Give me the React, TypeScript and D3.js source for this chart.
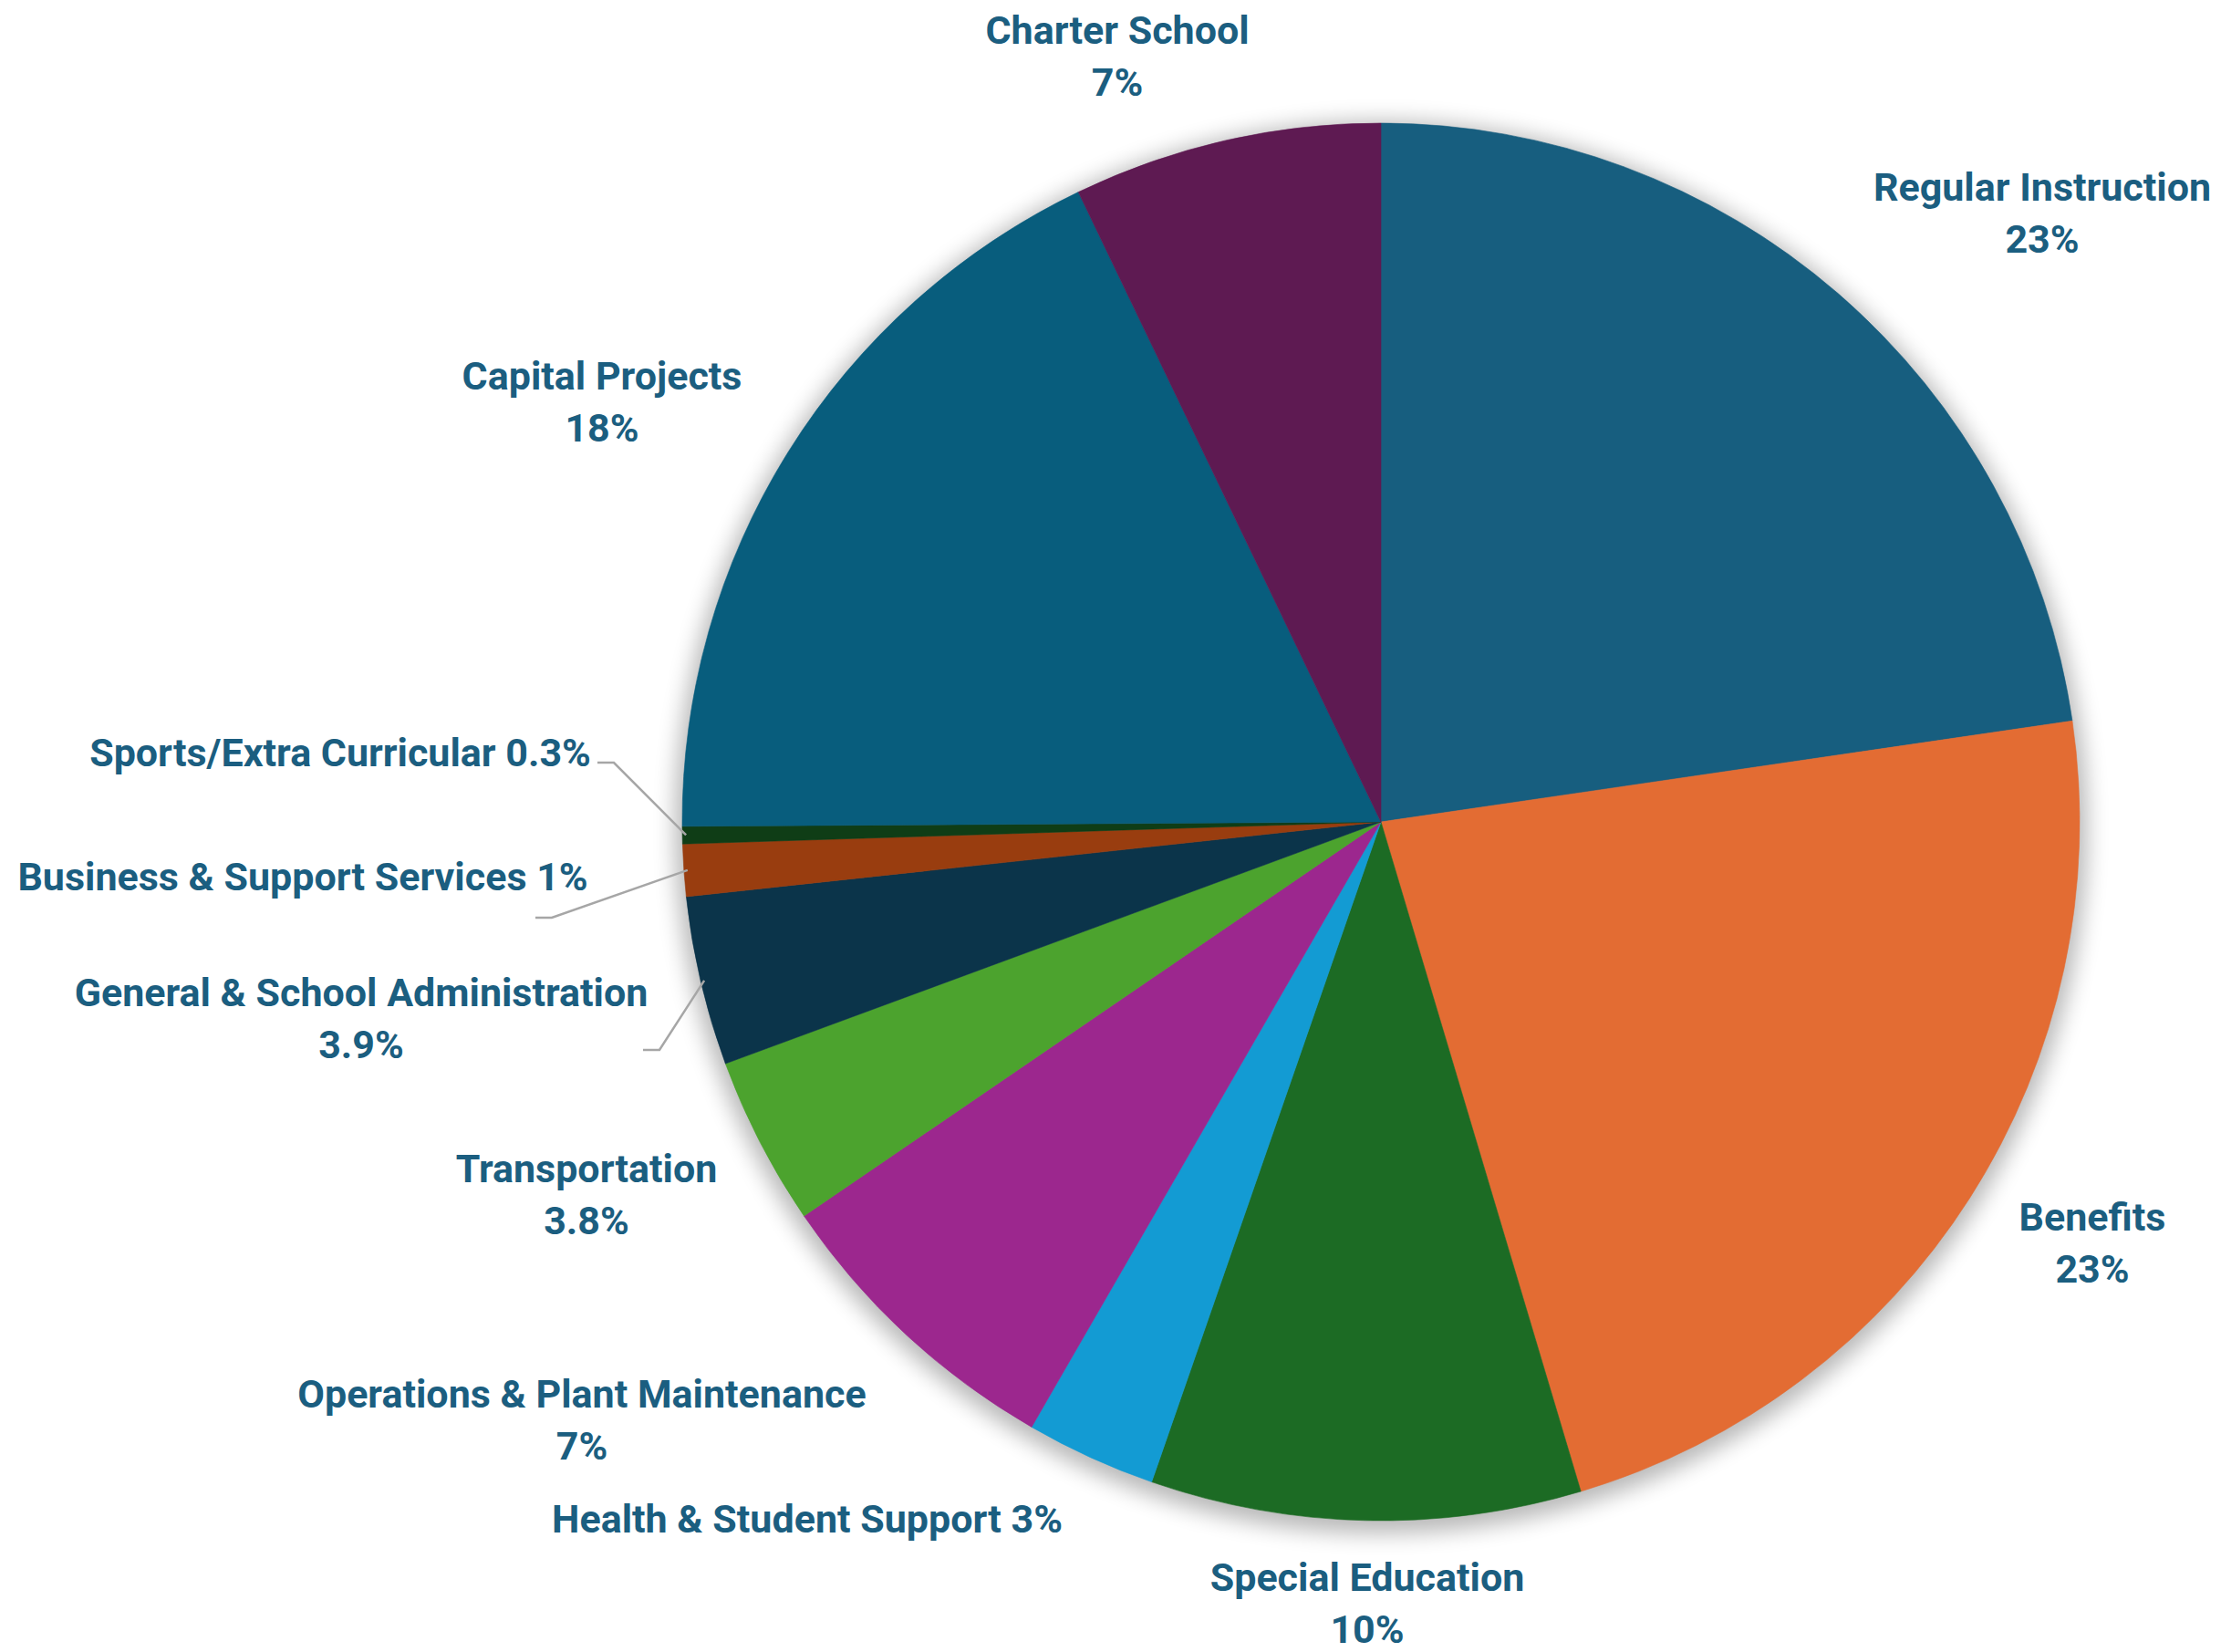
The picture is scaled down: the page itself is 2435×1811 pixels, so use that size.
import { FC, useRef, useEffect } from 'react'
import * as d3 from 'd3'

const categories = [
  'Regular Instruction',
  'Benefits',
  'Special Education',
  'Health & Student Support',
  'Operations & Plant Maintenance',
  'Transportation',
  'General & School Administration',
  'Business & Support Services',
  'Sports/Extra Curricular',
  'Capital Projects',
  'Charter School',
]
const shares = [22.6, 22.6, 9.9, 3.0, 7.1, 3.9, 3.9, 1.2, 0.4, 17.9, 7.1]
const shareLabels = ['23%', '23%', '10%', '3%', '7%', '3.8%', '3.9%', '1%', '0.3%', '18%', '7%']
const colors = [
  '#175e7f', '#e36c33', '#1c6b24', '#139bd3', '#9c278e', '#4ca32e',
  '#0b344a', '#993d0f', '#0f3d16', '#085d7d', '#5e1a52',
]

// label layout: offset of label centre from pie centre, and whether the % goes on the same line
const labelAt: [number, number][] = [
  [725, -668], [780, 461], [-15, 856], [-629, 764], [-876, 655], [-871, 408],
  [-1118, 215], [-1182, 60], [-1141, -76], [-854, -461], [-289, -840],
]
const oneLine = [false, false, false, true, false, false, false, true, true, false, false]
// leader lines: label-side end point for slices that have one
const leaders: { [k: number]: [number, number] } = {
  6: [-809, 250],
  7: [-927, 105],
  8: [-859, -65],
}

const W = 2435
const H = 1811
const CX = 1514
const CY = 901
const R = 766

const PieChart: FC = () => {
  const svgRef = useRef<SVGSVGElement>(null)

  useEffect(() => {
    if (!svgRef.current) return
    const svg = d3.select(svgRef.current)
    svg.selectAll('*').remove()
    svg.attr('width', W).attr('height', H)

    const defs = svg.append('defs')
    const f = defs.append('filter').attr('id', 'shadow')
      .attr('x', '-20%').attr('y', '-20%').attr('width', '140%').attr('height', '140%')
    f.append('feGaussianBlur').attr('stdDeviation', 12)

    const g = svg.append('g').attr('transform', `translate(${CX},${CY})`)

    g.append('circle')
      .attr('cx', 0).attr('cy', 6)
      .attr('r', R + 8)
      .attr('fill', '#000')
      .attr('opacity', 0.28)
      .attr('filter', 'url(#shadow)')

    const data = categories.map((c, i) => ({ c, v: shares[i], i }))
    const pie = d3.pie<{ c: string; v: number; i: number }>().value(d => d.v).sort(null)
    const arc = d3.arc<d3.PieArcDatum<{ c: string; v: number; i: number }>>()
      .innerRadius(0).outerRadius(R)
    const arcs = pie(data)

    g.selectAll('.slice')
      .data(arcs)
      .join('path')
      .attr('class', 'slice')
      .attr('d', arc)
      .attr('fill', d => colors[d.data.i])
      .attr('stroke', d => colors[d.data.i])
      .attr('stroke-width', 0.6)

    // leader lines
    arcs.forEach(a => {
      const l = leaders[a.data.i]
      if (!l) return
      const mid = (a.startAngle + a.endAngle) / 2
      const sx = Math.sin(mid) * (R - 4)
      const sy = -Math.cos(mid) * (R - 4)
      const [ex, ey] = l
      const hx = ex + 18
      g.append('path')
        .attr('d', d3.line()([[ex, ey], [hx, ey], [sx, sy]]))
        .attr('fill', 'none')
        .attr('stroke', '#a6a6a6')
        .attr('stroke-width', 2.5)
    })

    const fontSize = 43
    const lineGap = 57
    const labels = g.selectAll('.lbl')
      .data(arcs)
      .join('text')
      .attr('class', 'lbl')
      .attr('text-anchor', 'middle')
      .attr('font-family', '"Liberation Sans Narrow", "Arial Narrow", "Roboto", sans-serif')
      .attr('font-weight', 700)
      .attr('font-size', fontSize)
      .attr('fill', '#1b5e80')
      .attr('transform', d => `translate(${labelAt[d.data.i][0]},${labelAt[d.data.i][1]})`)

    labels.each(function (d) {
      const t = d3.select(this)
      const i = d.data.i
      if (oneLine[i]) {
        t.append('tspan').attr('x', 0).attr('dy', '0.35em').text(`${categories[i]} ${shareLabels[i]}`)
      } else {
        t.append('tspan').attr('x', 0).attr('y', -lineGap / 2).attr('dy', '0.35em').text(categories[i])
        t.append('tspan').attr('x', 0).attr('y', lineGap / 2).attr('dy', '0.35em').text(shareLabels[i])
      }
    })
  }, [])

  return <svg ref={svgRef} style={{ position: 'absolute', left: 0, top: 0, background: '#fff' }} />
}

export default function App() {
  return <PieChart />
}
